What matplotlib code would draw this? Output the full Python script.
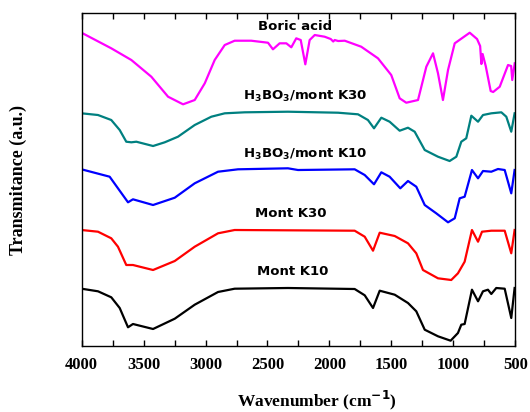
import matplotlib
matplotlib.use('Agg')
import matplotlib.pyplot as plt
from matplotlib.ticker import MultipleLocator

# wavenumber (cm-1) / transmittance (a.u., stacked)
boric_wn = [4000, 3760, 3598, 3437, 3302, 3181, 3087, 3006, 2926, 2845, 2765, 2631, 2496, 2456,
            2402, 2348, 2308, 2268, 2232, 2195, 2160, 2119, 2039, 1990, 1970, 1958, 1930, 1877,
            1744, 1609, 1502, 1434, 1381, 1286, 1219, 1165, 1125, 1085, 1044, 990, 869, 810, 785,
            775, 765, 740, 700, 680, 627, 560, 535, 526, 506]
boric_t = [313.3, 297.7, 286, 269.3, 249.3, 241.7, 246, 262.7, 286, 301, 305.3, 305.3, 303.3, 296.7,
           302.7, 302.7, 298.7, 307.7, 306, 281.7, 306, 311, 309.3, 307, 304.5, 306, 305, 305.3,
           299.3, 287.7, 271, 247.7, 243.3, 246, 279.3, 292.7, 272.7, 246, 276, 302.7, 313.3, 307, 300,
           282, 292, 280, 255, 254, 259.3, 281, 280, 266, 282.7]

k30b_wn = [4000, 3867, 3760, 3692, 3639, 3598, 3558, 3423, 3329, 3222, 3087, 2953, 2845, 2684,
           2335, 1931, 1770, 1690, 1641, 1582, 1515, 1434, 1367, 1313, 1232, 1125, 1031, 977,
           937, 897, 856, 802, 762, 695, 614, 574, 534, 507]
k30b_t = [232.7, 231, 226, 216, 204.3, 203.7, 204.3, 200, 203.7, 209.3, 221, 229.3, 232.7, 233.7,
          234.3, 233.3, 231.7, 226, 217.7, 228.3, 224.3, 215.3, 218.3, 214.3, 196, 189.3, 185, 189.3,
          204.3, 207.7, 230.3, 224.3, 231, 232.7, 233.7, 229.3, 214.3, 232.7]

k10b_wn = [4000, 3773, 3706, 3625, 3585, 3423, 3248, 3087, 2899, 2738, 2335, 2254, 1797, 1716,
           1641, 1582, 1515, 1429, 1367, 1300, 1232, 1139, 1044, 990, 950, 910, 851, 802, 762,
           695, 641, 587, 534, 507]
k10b_t = [176.7, 169.3, 157.7, 143.7, 146.7, 141, 148.3, 162.7, 174.3, 176.7, 177.7, 176, 176.7, 171,
          161.7, 173.7, 169.3, 157.7, 165, 159.3, 141, 132.7, 123.7, 127.7, 147.7, 149.3, 176, 167.7, 175,
          174.3, 177, 176, 152.7, 176]

k30_wn = [4000, 3867, 3760, 3706, 3639, 3585, 3423, 3248, 3087, 2899, 2765, 1797, 1716, 1649, 1595,
          1474, 1367, 1300, 1246, 1125, 1018, 964, 910, 851, 802, 770, 695, 587, 534, 507]
k30_t = [116, 114.3, 107.7, 99.3, 81, 81, 76, 85, 99.3, 112.7, 116, 115.3, 109.3, 95.3, 113.3,
         110, 102.7, 92.7, 76, 67.7, 66, 72.7, 84.3, 116, 104.3, 114.3, 115.3, 115.3, 92.7, 116]

k10_wn = [4000, 3867, 3760, 3692, 3625, 3585, 3423, 3248, 3087, 2899, 2765, 2335, 1797, 1716, 1649,
          1595, 1474, 1367, 1300, 1232, 1125, 1023, 964, 937, 910, 851, 802, 762, 722, 695, 655,
          587, 534, 507]
k10_t = [57.3, 54.7, 48.7, 38, 18.7, 22, 17, 27.3, 41.3, 54, 57.3, 58, 57, 50.7, 38,
         55.3, 51.3, 43, 34.7, 16.3, 9.7, 5.3, 13, 21.3, 22, 56.3, 44.7, 54.7, 56.3, 52, 58,
         57.3, 28, 58]

fig = plt.figure(figsize=(5.3, 4.12), dpi=100)
ax = fig.add_axes([0.1538, 0.1602, 0.8188, 0.8082])

lw = 1.6
ax.plot(boric_wn, boric_t, color='#ff00ff', lw=lw)
ax.plot(k30b_wn, k30b_t, color='#008080', lw=lw)
ax.plot(k10b_wn, k10b_t, color='#0000ff', lw=lw)
ax.plot(k30_wn, k30_t, color='#ff0000', lw=lw)
ax.plot(k10_wn, k10_t, color='black', lw=lw)

# curve labels
lab = dict(ha='center', va='center', fontsize=9.5, fontweight='bold', family='DejaVu Sans')
ax.text(2278, 320, 'Boric acid', **lab)
ax.text(2198, 250, r'H$_\mathbf{3}$BO$_\mathbf{3}$/mont K30', **lab)
ax.text(2198, 192, r'H$_\mathbf{3}$BO$_\mathbf{3}$/mont K10', **lab)
ax.text(2313, 133, 'Mont K30', **lab)
ax.text(2294, 75, 'Mont K10', **lab)

ax.set_xlim(4000, 500)
ax.set_ylim(0, 333)
ax.set_yticks([])
ax.xaxis.set_major_locator(MultipleLocator(500))
ax.xaxis.set_minor_locator(MultipleLocator(250))
ax.tick_params(axis='x', which='both', direction='in', top=True, length=4, width=1, pad=8)
for t in ax.get_xticklabels():
    t.set_family('Liberation Serif')
    t.set_fontweight('bold')
    t.set_fontsize(12)
for s in ax.spines.values():
    s.set_linewidth(1)

ax.set_xlabel('Wavenumber (cm$^{\\mathbf{-1}}$)', family='Liberation Serif', fontweight='bold',
              fontsize=12.5)
ax.xaxis.set_label_coords(0.543, -0.128)
ax.set_ylabel('Transmitance (a.u.)', family='Liberation Serif', fontweight='bold', fontsize=13)
ax.yaxis.set_label_coords(-0.125, 0.5)

fig.savefig('out.png', dpi=100)
